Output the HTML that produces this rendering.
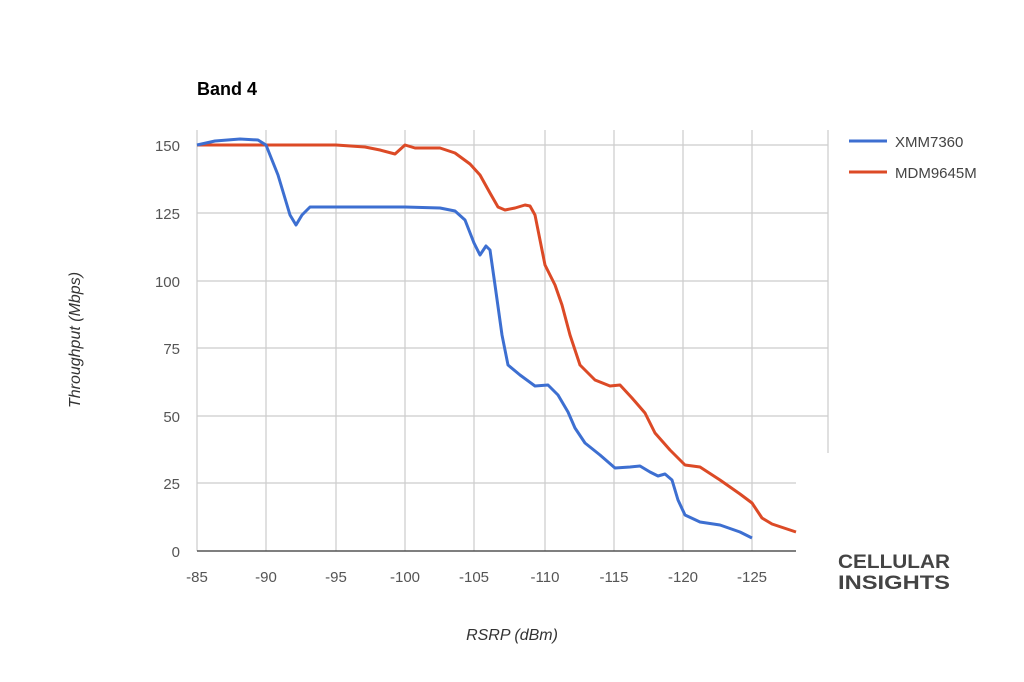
<!DOCTYPE html>
<html><head><meta charset="utf-8"><style>body{margin:0;background:#fff}svg{display:block}</style></head><body>
<svg width="1024" height="682" viewBox="0 0 1024 682" xmlns="http://www.w3.org/2000/svg" font-family="Liberation Sans, sans-serif">
<rect width="1024" height="682" fill="#fff"/>
<text x="197" y="95" font-size="18" font-weight="bold" fill="#000">Band 4</text>
<g stroke="#cccccc" stroke-width="1.2">
<line x1="197" y1="145" x2="828" y2="145"/><line x1="197" y1="213" x2="828" y2="213"/><line x1="197" y1="281" x2="828" y2="281"/><line x1="197" y1="348" x2="828" y2="348"/><line x1="197" y1="416" x2="828" y2="416"/><line x1="197" y1="483" x2="796" y2="483"/>
<line x1="197" y1="130" x2="197" y2="551"/><line x1="266" y1="130" x2="266" y2="551"/><line x1="336" y1="130" x2="336" y2="551"/><line x1="405" y1="130" x2="405" y2="551"/><line x1="474" y1="130" x2="474" y2="551"/><line x1="545" y1="130" x2="545" y2="551"/><line x1="614" y1="130" x2="614" y2="551"/><line x1="683" y1="130" x2="683" y2="551"/><line x1="752" y1="130" x2="752" y2="551"/><line x1="828" y1="130" x2="828" y2="453"/>
</g>
<line x1="197" y1="551" x2="796" y2="551" stroke="#333" stroke-width="1.2"/>
<g font-size="15" fill="#555" text-anchor="end">
<text x="180" y="151">150</text><text x="180" y="219">125</text><text x="180" y="287">100</text><text x="180" y="354">75</text><text x="180" y="422">50</text><text x="180" y="489">25</text><text x="180" y="557">0</text>
</g>
<g font-size="15" fill="#555" text-anchor="middle">
<text x="197" y="582">-85</text><text x="266" y="582">-90</text><text x="336" y="582">-95</text><text x="405" y="582">-100</text><text x="474" y="582">-105</text><text x="545" y="582">-110</text><text x="614" y="582">-115</text><text x="683" y="582">-120</text><text x="752" y="582">-125</text>
</g>
<text x="512" y="640" font-size="16" font-style="italic" fill="#333" text-anchor="middle">RSRP (dBm)</text>
<text transform="translate(80,340) rotate(-90)" font-size="16" font-style="italic" fill="#333" text-anchor="middle">Throughput (Mbps)</text>
<path fill="none" stroke="#dc4a26" stroke-width="3" stroke-linejoin="round" d="M197,145 L230,145 L336,145 L365,147 L380,150 L395,154 L405,145 L415,148 L440,148 L455,153 L470,164 L480,175 L490,193 L498,207 L505,210 L515,208 L525,205 L530,206 L535,215 L545,265 L555,285 L562,305 L570,335 L580,365 L595,380 L610,386 L620,385 L632,398 L645,413 L655,433 L670,450 L685,465 L700,467 L720,480 L740,494 L752,503 L762,518 L772,524 L796,532"/>
<path fill="none" stroke="#3d6fd1" stroke-width="3" stroke-linejoin="round" d="M197,145 L215,141 L240,139 L258,140 L266,145 L278,175 L290,215 L296,225 L302,215 L310,207 L330,207 L405,207 L440,208 L455,211 L465,220 L474,243 L480,255 L486,246 L490,250 L495,285 L502,335 L508,365 L520,375 L535,386 L548,385 L558,395 L568,412 L575,428 L585,443 L600,455 L615,468 L630,467 L640,466 L650,472 L658,476 L665,474 L672,480 L678,500 L685,515 L700,522 L720,525 L740,532 L752,538"/>
<line x1="849" y1="141" x2="887" y2="141" stroke="#3d6fd1" stroke-width="3"/>
<text x="895" y="147" font-size="15" fill="#444">XMM7360</text>
<line x1="849" y1="172" x2="887" y2="172" stroke="#dc4a26" stroke-width="3"/>
<text x="895" y="178" font-size="15" fill="#444">MDM9645M</text>
<text x="838" y="568" font-size="19" font-weight="bold" fill="#444" textLength="112" lengthAdjust="spacingAndGlyphs">CELLULAR</text>
<text x="838" y="589" font-size="19" font-weight="bold" fill="#444" textLength="112" lengthAdjust="spacingAndGlyphs">INSIGHTS</text>
</svg>
</body></html>
